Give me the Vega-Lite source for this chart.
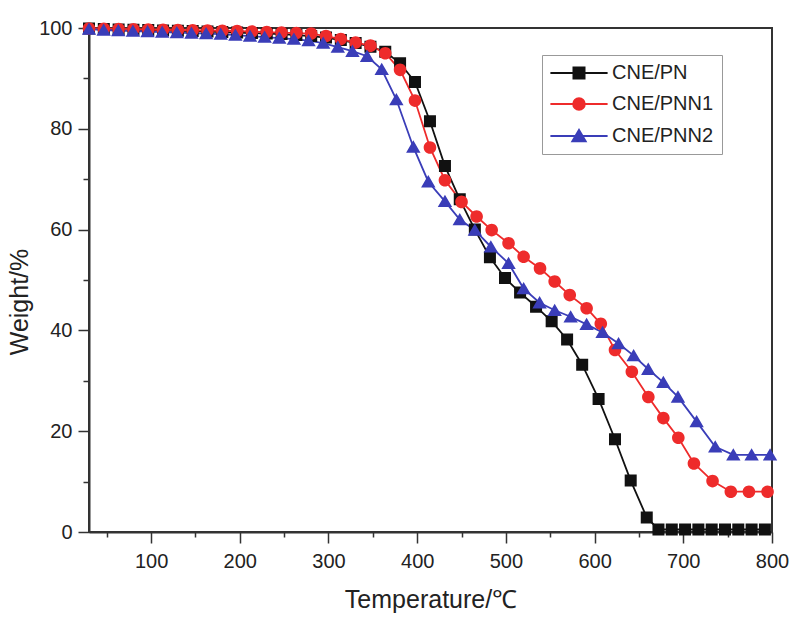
{
  "$schema": "https://vega.github.io/schema/vega-lite/v6.json",
  "width": 683,
  "height": 504,
  "autosize": {"type": "none"},
  "padding": {"left": 89, "top": 28, "right": 28, "bottom": 89},
  "background": "white",
  "config": {
    "font": "Liberation Sans",
    "view": {"stroke": "#333333", "strokeWidth": 2}
  },
  "data": {
    "values": [
      {"series": "CNE/PN", "temp": 30, "weight": 99.9},
      {"series": "CNE/PN", "temp": 46.7, "weight": 99.8},
      {"series": "CNE/PN", "temp": 63.4, "weight": 99.7},
      {"series": "CNE/PN", "temp": 80.1, "weight": 99.65},
      {"series": "CNE/PN", "temp": 96.8, "weight": 99.6},
      {"series": "CNE/PN", "temp": 113.5, "weight": 99.5},
      {"series": "CNE/PN", "temp": 130.2, "weight": 99.45},
      {"series": "CNE/PN", "temp": 146.9, "weight": 99.4},
      {"series": "CNE/PN", "temp": 163.6, "weight": 99.3},
      {"series": "CNE/PN", "temp": 180.3, "weight": 99.2},
      {"series": "CNE/PN", "temp": 197, "weight": 99.1},
      {"series": "CNE/PN", "temp": 213.7, "weight": 99.0},
      {"series": "CNE/PN", "temp": 230.4, "weight": 98.9},
      {"series": "CNE/PN", "temp": 247.1, "weight": 98.8},
      {"series": "CNE/PN", "temp": 263.8, "weight": 98.6},
      {"series": "CNE/PN", "temp": 280.5, "weight": 98.4},
      {"series": "CNE/PN", "temp": 297.2, "weight": 98.1},
      {"series": "CNE/PN", "temp": 313.9, "weight": 97.6},
      {"series": "CNE/PN", "temp": 330.6, "weight": 97.0},
      {"series": "CNE/PN", "temp": 347.3, "weight": 96.3},
      {"series": "CNE/PN", "temp": 364, "weight": 95.3},
      {"series": "CNE/PN", "temp": 380.7, "weight": 93.0},
      {"series": "CNE/PN", "temp": 397.5, "weight": 89.3},
      {"series": "CNE/PN", "temp": 414.4, "weight": 81.5},
      {"series": "CNE/PN", "temp": 431.3, "weight": 72.6},
      {"series": "CNE/PN", "temp": 448, "weight": 66.0},
      {"series": "CNE/PN", "temp": 465, "weight": 60.0},
      {"series": "CNE/PN", "temp": 482, "weight": 54.5},
      {"series": "CNE/PN", "temp": 499, "weight": 50.4},
      {"series": "CNE/PN", "temp": 516, "weight": 47.5},
      {"series": "CNE/PN", "temp": 534, "weight": 44.7},
      {"series": "CNE/PN", "temp": 551.6, "weight": 41.8},
      {"series": "CNE/PN", "temp": 569, "weight": 38.2},
      {"series": "CNE/PN", "temp": 586, "weight": 33.2},
      {"series": "CNE/PN", "temp": 604.5, "weight": 26.4},
      {"series": "CNE/PN", "temp": 623, "weight": 18.4},
      {"series": "CNE/PN", "temp": 640.7, "weight": 10.2},
      {"series": "CNE/PN", "temp": 658.8, "weight": 2.9},
      {"series": "CNE/PN", "temp": 672, "weight": 0.5},
      {"series": "CNE/PN", "temp": 687, "weight": 0.5},
      {"series": "CNE/PN", "temp": 702, "weight": 0.5},
      {"series": "CNE/PN", "temp": 717, "weight": 0.5},
      {"series": "CNE/PN", "temp": 732, "weight": 0.5},
      {"series": "CNE/PN", "temp": 747, "weight": 0.5},
      {"series": "CNE/PN", "temp": 762, "weight": 0.5},
      {"series": "CNE/PN", "temp": 777, "weight": 0.5},
      {"series": "CNE/PN", "temp": 792, "weight": 0.5},
      {"series": "CNE/PNN1", "temp": 30, "weight": 99.9},
      {"series": "CNE/PNN1", "temp": 46.7, "weight": 99.85},
      {"series": "CNE/PNN1", "temp": 63.4, "weight": 99.8},
      {"series": "CNE/PNN1", "temp": 80.1, "weight": 99.75},
      {"series": "CNE/PNN1", "temp": 96.8, "weight": 99.7},
      {"series": "CNE/PNN1", "temp": 113.5, "weight": 99.65},
      {"series": "CNE/PNN1", "temp": 130.2, "weight": 99.6},
      {"series": "CNE/PNN1", "temp": 146.9, "weight": 99.55},
      {"series": "CNE/PNN1", "temp": 163.6, "weight": 99.5},
      {"series": "CNE/PNN1", "temp": 180.3, "weight": 99.45},
      {"series": "CNE/PNN1", "temp": 197, "weight": 99.4},
      {"series": "CNE/PNN1", "temp": 213.7, "weight": 99.3},
      {"series": "CNE/PNN1", "temp": 230.4, "weight": 99.2},
      {"series": "CNE/PNN1", "temp": 247.1, "weight": 99.1},
      {"series": "CNE/PNN1", "temp": 263.8, "weight": 99.0},
      {"series": "CNE/PNN1", "temp": 280.5, "weight": 98.9},
      {"series": "CNE/PNN1", "temp": 297.2, "weight": 98.4},
      {"series": "CNE/PNN1", "temp": 313.9, "weight": 97.8},
      {"series": "CNE/PNN1", "temp": 330.6, "weight": 97.1},
      {"series": "CNE/PNN1", "temp": 347.3, "weight": 96.5},
      {"series": "CNE/PNN1", "temp": 364, "weight": 95.0},
      {"series": "CNE/PNN1", "temp": 380.7, "weight": 91.7},
      {"series": "CNE/PNN1", "temp": 397.5, "weight": 85.6},
      {"series": "CNE/PNN1", "temp": 414.4, "weight": 76.3},
      {"series": "CNE/PNN1", "temp": 431.3, "weight": 69.8},
      {"series": "CNE/PNN1", "temp": 450, "weight": 65.5},
      {"series": "CNE/PNN1", "temp": 467, "weight": 62.6},
      {"series": "CNE/PNN1", "temp": 484, "weight": 59.9},
      {"series": "CNE/PNN1", "temp": 503, "weight": 57.3},
      {"series": "CNE/PNN1", "temp": 520, "weight": 54.6},
      {"series": "CNE/PNN1", "temp": 538.5, "weight": 52.3},
      {"series": "CNE/PNN1", "temp": 555, "weight": 49.7},
      {"series": "CNE/PNN1", "temp": 572, "weight": 47.0},
      {"series": "CNE/PNN1", "temp": 591, "weight": 44.4},
      {"series": "CNE/PNN1", "temp": 607, "weight": 41.3},
      {"series": "CNE/PNN1", "temp": 623, "weight": 36.1},
      {"series": "CNE/PNN1", "temp": 642, "weight": 31.8},
      {"series": "CNE/PNN1", "temp": 660.6, "weight": 26.8},
      {"series": "CNE/PNN1", "temp": 677.5, "weight": 22.6},
      {"series": "CNE/PNN1", "temp": 694.4, "weight": 18.7},
      {"series": "CNE/PNN1", "temp": 712, "weight": 13.6},
      {"series": "CNE/PNN1", "temp": 733, "weight": 10.1},
      {"series": "CNE/PNN1", "temp": 753.6, "weight": 8.0},
      {"series": "CNE/PNN1", "temp": 774, "weight": 8.0},
      {"series": "CNE/PNN1", "temp": 795, "weight": 8.0},
      {"series": "CNE/PNN2", "temp": 30, "weight": 99.8},
      {"series": "CNE/PNN2", "temp": 46.5, "weight": 99.6},
      {"series": "CNE/PNN2", "temp": 63, "weight": 99.5},
      {"series": "CNE/PNN2", "temp": 79.5, "weight": 99.4},
      {"series": "CNE/PNN2", "temp": 96, "weight": 99.3},
      {"series": "CNE/PNN2", "temp": 112.5, "weight": 99.2},
      {"series": "CNE/PNN2", "temp": 129, "weight": 99.1},
      {"series": "CNE/PNN2", "temp": 145.5, "weight": 99.0},
      {"series": "CNE/PNN2", "temp": 162, "weight": 98.9},
      {"series": "CNE/PNN2", "temp": 178.5, "weight": 98.8},
      {"series": "CNE/PNN2", "temp": 195, "weight": 98.6},
      {"series": "CNE/PNN2", "temp": 211.5, "weight": 98.4},
      {"series": "CNE/PNN2", "temp": 228, "weight": 98.2},
      {"series": "CNE/PNN2", "temp": 244.5, "weight": 98.0},
      {"series": "CNE/PNN2", "temp": 261, "weight": 97.8},
      {"series": "CNE/PNN2", "temp": 277.5, "weight": 97.5},
      {"series": "CNE/PNN2", "temp": 294, "weight": 97.0},
      {"series": "CNE/PNN2", "temp": 310.5, "weight": 96.2},
      {"series": "CNE/PNN2", "temp": 327, "weight": 95.4},
      {"series": "CNE/PNN2", "temp": 343.5, "weight": 94.4},
      {"series": "CNE/PNN2", "temp": 360, "weight": 91.8},
      {"series": "CNE/PNN2", "temp": 376.5, "weight": 85.8},
      {"series": "CNE/PNN2", "temp": 395.6, "weight": 76.4},
      {"series": "CNE/PNN2", "temp": 412.5, "weight": 69.5},
      {"series": "CNE/PNN2", "temp": 431.3, "weight": 65.6},
      {"series": "CNE/PNN2", "temp": 448, "weight": 62.0},
      {"series": "CNE/PNN2", "temp": 465, "weight": 59.9},
      {"series": "CNE/PNN2", "temp": 483, "weight": 56.6},
      {"series": "CNE/PNN2", "temp": 503, "weight": 53.3},
      {"series": "CNE/PNN2", "temp": 520, "weight": 48.3},
      {"series": "CNE/PNN2", "temp": 538, "weight": 45.5},
      {"series": "CNE/PNN2", "temp": 555, "weight": 44.0},
      {"series": "CNE/PNN2", "temp": 573, "weight": 42.7},
      {"series": "CNE/PNN2", "temp": 591, "weight": 41.2},
      {"series": "CNE/PNN2", "temp": 609, "weight": 39.6},
      {"series": "CNE/PNN2", "temp": 627, "weight": 37.4},
      {"series": "CNE/PNN2", "temp": 644, "weight": 35.0},
      {"series": "CNE/PNN2", "temp": 660.5, "weight": 32.3},
      {"series": "CNE/PNN2", "temp": 677.5, "weight": 29.7},
      {"series": "CNE/PNN2", "temp": 694, "weight": 26.8},
      {"series": "CNE/PNN2", "temp": 715, "weight": 21.9},
      {"series": "CNE/PNN2", "temp": 736, "weight": 16.9},
      {"series": "CNE/PNN2", "temp": 756.4, "weight": 15.3},
      {"series": "CNE/PNN2", "temp": 777, "weight": 15.3},
      {"series": "CNE/PNN2", "temp": 797.8, "weight": 15.3}
    ]
  },
  "encoding": {
    "x": {
      "field": "temp",
      "type": "quantitative",
      "scale": {"domain": [30, 800], "nice": false, "zero": false},
      "axis": {
        "title": "Temperature/℃",
        "values": [50, 100, 150, 200, 250, 300, 350, 400, 450, 500, 550, 600, 650, 700, 750, 800],
        "labelExpr": "datum.value % 100 === 0 ? datum.label : ''",
        "format": "d",
        "grid": false,
        "tickSize": {"condition": {"test": "datum.value % 100 === 0", "value": 11}, "value": 5},
        "tickWidth": 1.5,
        "tickColor": "#333333",
        "domainColor": "#333333",
        "domainWidth": 2,
        "labelFont": "Liberation Sans",
        "labelFontSize": 20,
        "labelColor": "#222222",
        "labelBaseline": "alphabetic",
        "labelPadding": 24,
        "labelFlush": false,
        "labelOverlap": false,
        "titleFont": "Liberation Sans",
        "titleFontSize": 25,
        "titleFontWeight": "normal",
        "titleColor": "#222222",
        "titleBaseline": "alphabetic",
        "titleY": 75
      }
    },
    "y": {
      "field": "weight",
      "type": "quantitative",
      "scale": {"domain": [0, 100], "nice": false, "zero": false},
      "axis": {
        "title": "Weight/%",
        "values": [0, 10, 20, 30, 40, 50, 60, 70, 80, 90, 100],
        "labelExpr": "datum.value % 20 === 0 ? datum.label : ''",
        "format": "d",
        "grid": false,
        "tickSize": {"condition": {"test": "datum.value % 20 === 0", "value": 11}, "value": 6},
        "tickWidth": 1.5,
        "tickColor": "#333333",
        "domainColor": "#333333",
        "domainWidth": 2,
        "labelFont": "Liberation Sans",
        "labelFontSize": 20,
        "labelColor": "#222222",
        "labelBaseline": "middle",
        "labelPadding": 6,
        "labelFlush": false,
        "labelOverlap": false,
        "titleFont": "Liberation Sans",
        "titleFontSize": 25,
        "titleFontWeight": "normal",
        "titleColor": "#222222",
        "titleAngle": 270,
        "titleAlign": "center",
        "titleBaseline": "alphabetic",
        "titleX": -62,
        "titleY": 273.5
      }
    }
  },
  "layer": [
    {
      "mark": {"type": "line", "strokeWidth": 1.8},
      "encoding": {
        "stroke": {
          "field": "series",
          "type": "nominal",
          "scale": {"domain": ["CNE/PN", "CNE/PNN1", "CNE/PNN2"], "range": ["#111111", "#ee2b2b", "#3a3db8"]}
        }
      }
    },
    {
      "mark": {"type": "point", "filled": true, "size": 144, "opacity": 1, "strokeWidth": 0},
      "encoding": {
        "fill": {
          "field": "series",
          "type": "nominal",
          "scale": {"domain": ["CNE/PN", "CNE/PNN1", "CNE/PNN2"], "range": ["#111111", "#ee2b2b", "#3a3db8"]},
          "legend": {
            "title": null,
            "orient": "none",
            "legendX": 453,
            "legendY": 27,
            "padding": 8,
            "strokeColor": "#999999",
            "fillColor": "white",
            "labelFont": "Liberation Sans",
            "labelFontSize": 20,
            "labelColor": "#222222",
            "labelOffset": 23,
            "symbolOffset": 19,
            "symbolSize": 121,
            "symbolStrokeWidth": 2,
            "rowPadding": 11,
            "encode": {
              "symbols": {
                "fill": {"signal": "datum.value === 'CNE/PN' ? '#111111' : datum.value === 'CNE/PNN1' ? '#ee2b2b' : '#3a3db8'"},
                "stroke": {"signal": "datum.value === 'CNE/PN' ? '#111111' : datum.value === 'CNE/PNN1' ? '#ee2b2b' : '#3a3db8'"},
                "strokeWidth": {"value": 2},
                "opacity": {"value": 1},
                "size": {"value": 121}
              }
            }
          }
        },
        "shape": {
          "field": "series",
          "type": "nominal",
          "scale": {
            "domain": ["CNE/PN", "CNE/PNN1", "CNE/PNN2"],
            "range": [
              "M-5.2,0H5.2M-1,-1H1V1H-1Z",
              "M-5.2,0H5.2M-1.05,0A1.05,1.05,0,1,0,1.05,0A1.05,1.05,0,1,0,-1.05,0Z",
              "M-5.2,0H5.2M0,-1.1L1.2,0.95L-1.2,0.95Z"
            ]
          }
        }
      }
    }
  ]
}
